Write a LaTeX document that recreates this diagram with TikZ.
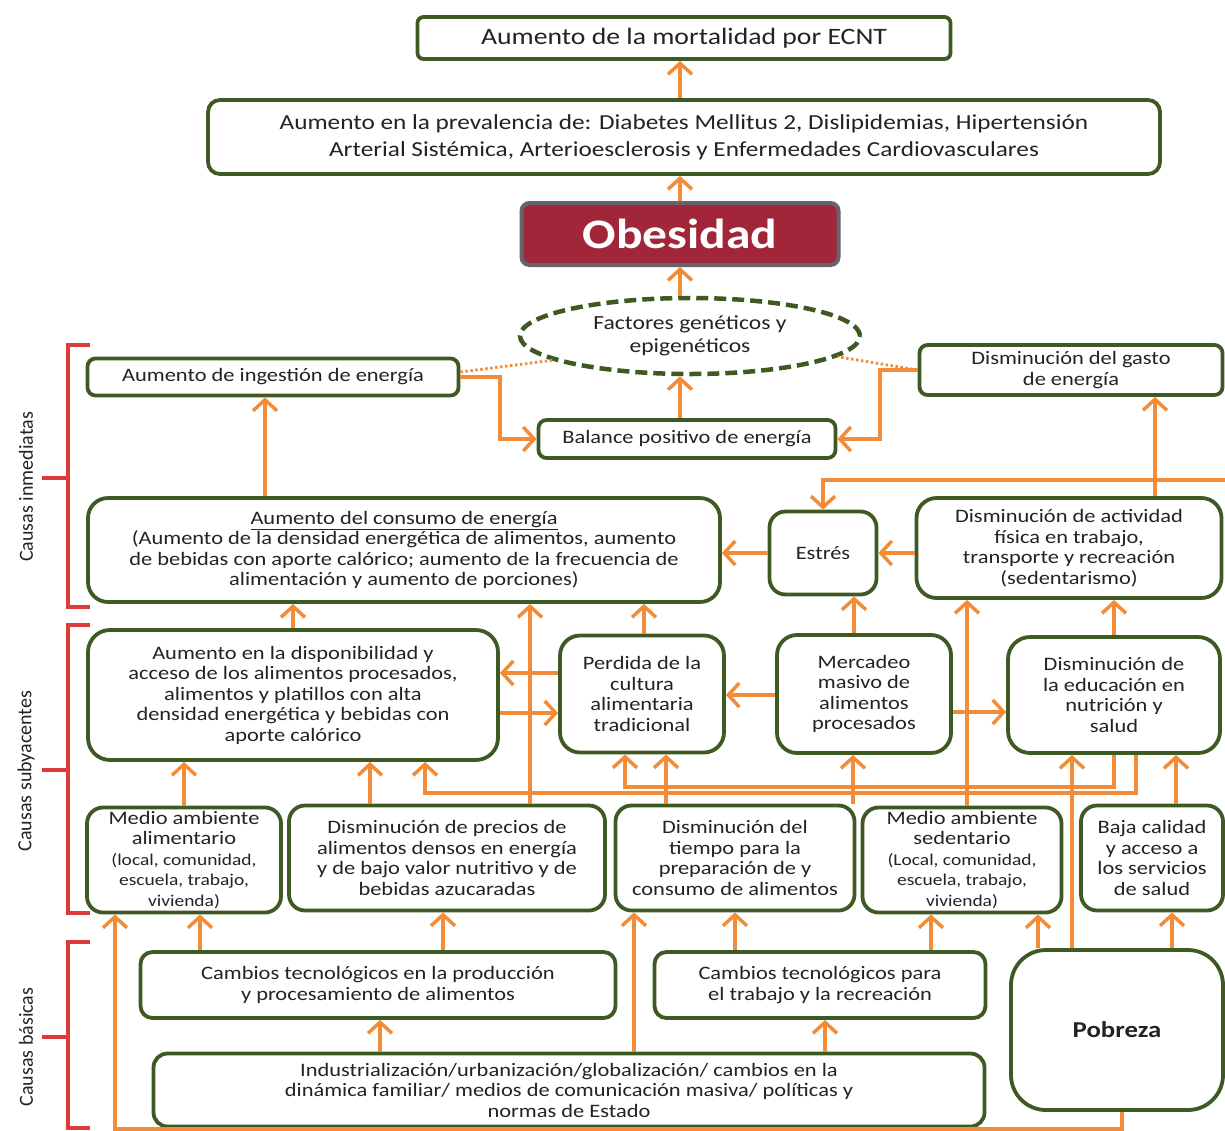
\documentclass[tikz,border=0pt]{standalone}
\usepackage{fontspec}
\setmainfont{Carlito}[FakeStretch=1.18]
\newfontfamily\labfont{Carlito}
\usetikzlibrary{arrows.meta,shapes.geometric}
\definecolor{bgreen}{RGB}{62,90,34}
\definecolor{aor}{RGB}{242,140,56}
\definecolor{bred}{RGB}{222,58,58}
\definecolor{obred}{RGB}{162,38,58}
\definecolor{txt}{RGB}{35,35,35}
\newcommand\sbx{\fontsize{16.5}{19}\selectfont}
\begin{document}
\begin{tikzpicture}[x=1pt,y=-1pt,
  box/.style={draw=bgreen, line width=3.8pt, rounded corners=14pt, fill=white, align=center, inner sep=0pt, text=txt, font=\fontsize{19}{20.5}\selectfont},
  sz/.style 2 args={minimum width=#1pt, minimum height=#2pt},
  arr/.style={draw=aor, line width=3.5pt, -{Straight Barb[length=11pt,width=24pt]}},
  dotl/.style={draw=aor, line width=2.8pt, dash pattern=on 2.5pt off 2.5pt},
  brk/.style={draw=bred, line width=4.5pt},
  lab/.style={rotate=90, text=txt, font=\labfont\fontsize{20}{20}\selectfont}
]
\useasboundingbox (0,0) rectangle (1225,1130);

% ---------- top ----------
\node[box, sz={533}{42}, rounded corners=6pt, font=\fontsize{23.5}{25}\selectfont] (mort) at (684,38) {Aumento de la mortalidad por ECNT};
\node[box, sz={952}{74}, rounded corners=12pt, font=\fontsize{21.4}{27}\selectfont] (prev) at (684,137) {Aumento en la prevalencia de: Diabetes Mellitus 2, Dislipidemias, Hipertensión\\Arterial Sistémica, Arterioesclerosis y Enfermedades Cardiovasculares};
\node[box, sz={317}{62}, rounded corners=8pt, draw={rgb,255:red,100;green,100;blue,106}, line width=4pt, fill=obred, text=white, font=\bfseries\fontsize{42}{44}\selectfont] (obes) at (680,234) {Obesidad};
\node[ellipse, draw=bgreen, line width=4.5pt, dash pattern=on 12pt off 6pt, fill=white, minimum width=340pt, minimum height=76pt, inner sep=0pt, align=center, text=txt, font=\fontsize{20}{23}\selectfont] (fact) at (690,336) {Factores genéticos y\\epigenéticos};

% ---------- immediate causes ----------
\node[box, sz={371}{37}, rounded corners=8pt] (ing) at (273,377) {Aumento de ingestión de energía};
\node[box, sz={303}{50}, rounded corners=8pt] (gasto) at (1071,370) {Disminución del gasto\\de energía};
\node[box, sz={297}{38}, rounded corners=8pt] (bal) at (687,439) {Balance positivo de energía};
\node[box, sz={632}{104}, rounded corners=20pt] (cons) at (404,550) {\underline{Aumento del consumo de energía}\\(Aumento de la densidad energética de alimentos, aumento\\de bebidas con aporte calórico; aumento de la frecuencia de\\alimentación y aumento de porciones)};
\node[box, sz={107}{83}, rounded corners=16pt] (estres) at (823,553) {Estrés};
\node[box, sz={305}{100}, rounded corners=20pt] (activ) at (1069,548) {Disminución de actividad\\física en trabajo,\\transporte y recreación\\(sedentarismo)};

% ---------- underlying causes ----------
\node[box, sz={410}{130}, rounded corners=22pt] (disp) at (293,695) {Aumento en la disponibilidad y\\acceso de los alimentos procesados,\\alimentos y platillos con alta\\densidad energética y bebidas con\\aporte calórico};
\node[box, sz={164}{117}, rounded corners=20pt] (perd) at (642,694) {Perdida de la\\cultura\\alimentaria\\tradicional};
\node[box, sz={174}{118}, rounded corners=20pt] (merc) at (864,694) {Mercadeo\\masivo de\\alimentos\\procesados};
\node[box, sz={212}{116}, rounded corners=22pt] (educ) at (1114,695) {Disminución de\\la educación en\\nutrición y\\salud};

\node[box, sz={194}{105}, rounded corners=16pt] (alim) at (184,860) {Medio ambiente\\alimentario\\\sbx (local, comunidad,\\\sbx escuela, trabajo,\\\sbx vivienda)};
\node[box, sz={316}{105}, rounded corners=16pt] (prec) at (447,858) {Disminución de precios de\\alimentos densos en energía\\y de bajo valor nutritivo y de\\bebidas azucaradas};
\node[box, sz={239}{105}, rounded corners=16pt] (tiem) at (735,858) {Disminución del\\tiempo para la\\preparación de y\\consumo de alimentos};
\node[box, sz={199}{105}, rounded corners=16pt] (sede) at (962,860) {Medio ambiente\\sedentario\\\sbx (Local, comunidad,\\\sbx escuela, trabajo,\\\sbx vivienda)};
\node[box, sz={142}{105}, rounded corners=16pt] (baja) at (1152,858) {Baja calidad\\y acceso a\\los servicios\\de salud};

% ---------- basic causes ----------
\node[box, sz={475}{66}, rounded corners=12pt] (cam1) at (378,985) {Cambios tecnológicos en la producción\\y procesamiento de alimentos};
\node[box, sz={331}{66}, rounded corners=12pt] (cam2) at (820,985) {Cambios tecnológicos para\\el trabajo y la recreación};
\node[box, sz={212}{160}, rounded corners=35pt, font=\bfseries\fontsize{22.7}{24}\selectfont] (pobr) at (1117,1030) {Pobreza};
\node[box, sz={831}{73}, rounded corners=14pt] (indu) at (569,1090) {Industrialización/urbanización/globalización/ cambios en la\\dinámica familiar/ medios de comunicación masiva/ políticas y\\normas de Estado};

% ---------- brackets and labels ----------
\draw[brk] (90,345) -- (68,345) -- (68,607) -- (90,607);
\draw[brk] (42,478) -- (68,478);
\draw[brk] (90,625) -- (68,625) -- (68,913) -- (90,913);
\draw[brk] (42,770) -- (68,770);
\draw[brk] (90,942) -- (68,942) -- (68,1128) -- (90,1128);
\draw[brk] (42,1037) -- (68,1037);
\node[lab] (l1) at (26,487) {Causas inmediatas};
\node[lab] (l2) at (26,771) {Causas subyacentes};
\node[lab] (l3) at (26,1047) {Causas básicas};

% ---------- connectors: top ----------
\draw[arr] (680,0 |- prev.north) -- (680,0 |- mort.south);
\draw[arr] (680,0 |- obes.north) -- (680,0 |- prev.south);
\draw[arr] (680,0 |- fact.north) -- (680,0 |- obes.south);
\draw[arr] (680,0 |- bal.north) -- (680,0 |- fact.south);
\draw[dotl] ([yshift=5pt]ing.east) -- (fact.190);
\draw[dotl] (gasto.west) -- (fact.352);
\draw[arr] (ing.east) -- (500,0 |- ing.east) |- (bal.west);
\draw[arr] (gasto.west) -- (880,0 |- gasto.west) |- (bal.east);
\draw[arr] (265,0 |- cons.north) -- (265,0 |- ing.south);
\draw[arr] (1155,0 |- activ.north) -- (1155,0 |- gasto.south);
\coordinate (rin) at (1230,480);
\draw[arr] (rin) -| (estres.north);
\draw[arr] (estres.west) -- (cons.east |- estres.west);
\draw[arr] (activ.west |- estres.east) -- (estres.east);

% ---------- connectors: underlying -> immediate ----------
\draw[arr] (293,0 |- disp.north) -- (293,0 |- cons.south);
\draw[arr] (530,0 |- prec.north) -- (530,0 |- cons.south);
\draw[arr] (644,0 |- perd.north) -- (644,0 |- cons.south);
\draw[arr] (854,0 |- merc.north) -- (854,0 |- estres.south);
\draw[arr] (967,0 |- sede.north) -- (967,0 |- activ.south);
\draw[arr] (1114,0 |- educ.north) -- (1114,0 |- activ.south);

\draw[arr] (perd.west |- 0,673) -- (disp.east |- 0,673);
\draw[arr] (disp.east |- 0,713) -- (perd.west |- 0,713);
\draw[arr] (merc.west |- 0,695) -- (perd.east |- 0,695);
\draw[arr] (merc.east |- 0,712) -- (educ.west |- 0,712);

% ---------- connectors: row 4 -> row 3 ----------
\draw[arr] (184,0 |- alim.north) -- (184,0 |- disp.south);
\draw[arr] (370,0 |- prec.north) -- (370,0 |- disp.south);
\draw[arr] (1136,0 |- educ.south) |- (425,793) -- (425,0 |- disp.south);
\draw[arr] (1114,0 |- educ.south) |- (625,787) -- (625,0 |- perd.south);
\draw[arr] (666,0 |- tiem.north) -- (666,0 |- perd.south);
\draw[arr] (853,0 |- tiem.north) -- (853,0 |- merc.south);
\draw[arr] (1072,0 |- pobr.north) -- (1072,0 |- educ.south);
\draw[arr] (1176,0 |- baja.north) -- (1176,0 |- educ.south);

% ---------- connectors: basic -> row 4 ----------
\draw[arr] (1122,0 |- pobr.south) |- (115,1129) -- (115,0 |- alim.south);
\draw[arr] (200,0 |- cam1.north) -- (200,0 |- alim.south);
\draw[arr] (443,0 |- cam1.north) -- (443,0 |- prec.south);
\draw[arr] (634,0 |- indu.north) -- (634,0 |- tiem.south);
\draw[arr] (735,0 |- cam2.north) -- (735,0 |- tiem.south);
\draw[arr] (931,0 |- cam2.north) -- (931,0 |- sede.south);
\draw[arr] (1038,0 |- pobr.north) -- (1038,0 |- sede.south);
\draw[arr] (1172,0 |- pobr.north) -- (1172,0 |- baja.south);
\draw[arr] (380,0 |- indu.north) -- (380,0 |- cam1.south);
\draw[arr] (825,0 |- indu.north) -- (825,0 |- cam2.south);
\end{tikzpicture}
\end{document}
